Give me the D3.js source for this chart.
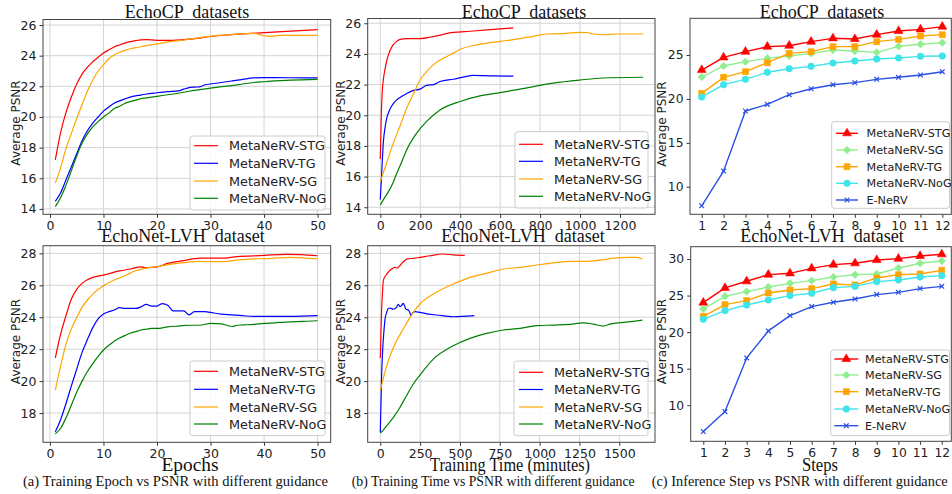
<!DOCTYPE html>
<html><head><meta charset="utf-8">
<script src="https://cdn.jsdelivr.net/npm/d3@7"></script>
<style>body{margin:0;background:#fff}svg{display:block}</style>
</head><body><svg id="c" width="952" height="494"></svg>
<script>
// ---------- DATA ----------
const seriesNames = ["MetaNeRV-STG","MetaNeRV-TG","MetaNeRV-SG","MetaNeRV-NoG"];
const stepNames = ["MetaNeRV-STG","MetaNeRV-SG","MetaNeRV-TG","MetaNeRV-NoG","E-NeRV"];

// (a) EchoCP, PSNR vs epoch
const cpEpSTGx = [1,2,3,4,5,6,7,8,9,10,11,12,13,14,15,16,17,18,20,23,25,28,30,33,36,40,45,50];
const cpEpSTGy = [17.2,19.0,20.3,21.3,22.15,22.8,23.25,23.6,23.9,24.17,24.38,24.57,24.7,24.82,24.92,24.98,25.03,25.05,25.0,25.0,25.05,25.15,25.25,25.35,25.42,25.5,25.6,25.7];
const cpEpSGx = [1,2,3,4,5,6,7,8,9,10,11,12,13,14,15,16,17,18,20,22,25,28,30,34,38,40,41,43,50];
const cpEpSGy = [15.7,16.7,17.95,18.93,19.9,20.8,21.7,22.4,23.0,23.4,23.8,24.05,24.22,24.35,24.45,24.52,24.58,24.65,24.77,24.9,25.02,25.18,25.28,25.38,25.45,25.3,25.26,25.32,25.33];
const cpEpTGx = [1,2,3,4,5,6,7,8,9,10,11,12,13,14,15,16,17,18,20,22,24,25,26,27,28,29,30,32,34,36,38,40,45,50];
const cpEpTGy = [14.5,15.05,15.9,16.75,17.6,18.45,19.1,19.6,20.0,20.38,20.65,20.9,21.05,21.18,21.3,21.38,21.43,21.5,21.58,21.65,21.7,21.82,21.92,21.95,21.97,22.1,22.15,22.25,22.35,22.45,22.55,22.57,22.56,22.55];
const cpEpNoGx = [1,2,3,4,5,6,7,8,9,10,11,12,13,14,15,16,17,18,20,22,24,26,28,30,32,34,36,38,40,42,45,50];
const cpEpNoGy = [14.15,14.75,15.55,16.5,17.45,18.3,18.9,19.35,19.7,20.0,20.25,20.55,20.7,20.88,21.0,21.1,21.2,21.25,21.35,21.45,21.55,21.68,21.78,21.88,21.98,22.05,22.15,22.25,22.3,22.35,22.4,22.45];

// (b) EchoCP, PSNR vs training time (minutes)
const cpTSTGx = [0,5,10,15,25,35,50,65,80,100,130,200,260,366,450,550,666];
const cpTSTGy = [17.15,20.0,21.6,22.3,23.1,23.7,24.25,24.6,24.8,24.95,25.0,25.0,25.12,25.4,25.48,25.58,25.7];
const cpTTGx = [0,8,15,25,32,45,57,82,110,132,166,199,232,266,299,366,420,466,560,666];
const cpTTGy = [14.5,16.5,18.2,19.3,19.8,20.3,20.6,21.0,21.25,21.42,21.62,21.7,21.95,22.0,22.2,22.35,22.5,22.6,22.57,22.55];
const cpTSGx = [0,32,66,99,132,166,199,232,266,320,366,400,466,533,600,700,766,833,900,1000,1040,1066,1120,1180,1316];
const cpTSGy = [15.67,16.9,18.2,19.3,20.45,21.4,22.3,22.85,23.3,23.75,24.05,24.3,24.55,24.7,24.82,25.0,25.15,25.3,25.32,25.4,25.38,25.3,25.25,25.3,25.3];
const cpTNoGx = [0,15,40,66,82,99,132,182,232,299,400,499,599,700,866,1000,1116,1316];
const cpTNoGy = [14.15,14.48,15.0,15.67,16.2,16.7,17.74,18.83,19.6,20.35,20.9,21.26,21.48,21.7,22.1,22.3,22.43,22.48];

// (a) EchoNet-LVH, PSNR vs epoch
const lvEpSTGx = [1,2,3,4,5,6,7,8,10,13,15,17,18,20,22,25,28,30,32,35,40,44,47,50];
const lvEpSTGy = [21.45,22.95,24.1,25.14,25.75,26.12,26.35,26.5,26.64,26.9,27.02,27.15,27.1,27.15,27.37,27.54,27.7,27.7,27.7,27.8,27.87,27.94,27.92,27.85];
const lvEpSGx = [1,2,3,4,5,6,7,8,10,12,14,16,18,20,22,25,28,30,32,35,38,40,45,50];
const lvEpSGy = [19.44,20.96,22.32,23.26,23.99,24.62,25.08,25.45,25.97,26.33,26.6,26.91,27.08,27.16,27.29,27.42,27.5,27.48,27.48,27.58,27.65,27.67,27.75,27.65];
const lvEpTGx = [1,2,3,4,5,6,7,8,9,10,11,12,13,14,15,16,17,18,19,20,21,22,23,24,25,26,27,28,29,30,32,34,36,38,40,45,50];
const lvEpTGy = [16.83,17.6,18.6,19.7,20.75,21.8,22.6,23.35,23.9,24.2,24.35,24.45,24.6,24.55,24.55,24.55,24.65,24.8,24.7,24.7,24.85,24.75,24.4,24.4,24.4,24.15,24.35,24.35,24.35,24.3,24.2,24.15,24.1,24.05,24.05,24.05,24.1];
const lvEpNoGx = [1,2,3,4,5,6,7,8,9,10,11,12,13,14,15,16,17,18,19,20,22,24,26,28,30,32,33,34,35,36,38,40,42,44,46,48,50];
const lvEpNoGy = [16.7,17.05,17.7,18.5,19.3,20.0,20.6,21.1,21.55,21.95,22.25,22.5,22.7,22.85,23.0,23.1,23.2,23.25,23.3,23.3,23.4,23.45,23.5,23.5,23.62,23.58,23.5,23.42,23.5,23.52,23.55,23.62,23.65,23.7,23.72,23.75,23.78];

// (b) EchoNet-LVH, PSNR vs training time (minutes)
const lvTSTGx = [0,4,8,14,19,30,40,55,71,92,107,120,134,150,170,207,249,312,395,458,530];
const lvTSTGy = [21.45,23.0,24.4,25.6,26.3,26.55,26.7,26.88,27.02,27.12,27.08,27.2,27.37,27.52,27.65,27.69,27.75,27.85,27.96,27.9,27.87];
const lvTTGx = [0,4,8,15,23,30,40,50,61,82,100,113,123,135,144,153,161,176,185,192,205,218,249,300,354,458,590];
const lvTTGy = [16.8,18.5,20.23,22.0,23.16,23.9,24.3,24.55,24.58,24.5,24.6,24.8,24.66,24.75,24.87,24.7,24.5,24.45,24.3,24.1,24.3,24.35,24.3,24.2,24.14,24.03,24.1];
const lvTSGx = [0,40,82,144,207,249,333,458,563,667,772,877,981,1086,1190,1295,1400,1462,1567,1609,1645];
const lvTSGy = [19.4,20.96,22.1,23.26,24.3,24.83,25.45,26.08,26.5,26.75,27.02,27.12,27.27,27.4,27.5,27.5,27.6,27.7,27.75,27.75,27.65];
const lvTNoGx = [0,20,40,82,123,165,207,249,333,458,563,667,772,877,981,1086,1190,1274,1337,1400,1441,1525,1588,1645];
const lvTNoGy = [16.75,16.95,17.2,17.73,18.35,19.1,19.82,20.38,21.38,22.22,22.68,22.99,23.2,23.3,23.47,23.51,23.55,23.65,23.57,23.45,23.57,23.68,23.74,23.82];

// (c) inference steps
const steps = [1,2,3,4,5,6,7,8,9,10,11,12];
const cpStepSTG = [23.29,24.73,25.38,25.95,26.06,26.52,26.9,26.82,27.32,27.73,27.92,28.23];
const cpStepSG  = [22.49,23.75,24.24,24.62,24.89,25.19,25.57,25.46,25.3,25.99,26.22,26.4];
const cpStepTG  = [20.63,22.46,23.1,24.13,25.19,25.38,25.95,25.95,26.52,26.78,27.16,27.32];
const cpStepNoG = [20.21,21.62,22.23,23.03,23.44,23.71,24.09,24.32,24.54,24.66,24.85,24.89];
const cpStepENeRV = [7.83,11.78,18.62,19.38,20.48,21.16,21.62,21.85,22.23,22.46,22.72,23.1];
const lvStepSTG = [24.03,26.04,26.95,27.86,28.04,28.72,29.23,29.41,29.86,30.05,30.41,30.64];
const lvStepSG  = [23.17,24.9,25.54,26.17,26.67,27.04,27.54,27.86,27.95,28.77,29.41,29.73];
const lvStepTG  = [22.16,23.76,24.31,25.35,25.76,25.95,26.58,26.45,27.4,27.86,27.95,28.45];
const lvStepNoG = [21.75,22.94,23.71,24.4,24.99,25.31,26.08,26.26,26.9,27.13,27.54,27.72];
const lvStepENeRV = [6.4,9.13,16.47,20.16,22.26,23.49,24.08,24.53,25.13,25.44,25.95,26.26];

// tick labels
const epochTicks = [0,10,20,30,40,50];
const cpTimeTicks = [0,200,400,600,800,1000,1200];
const lvTimeTicks = [0,250,500,750,1000,1250,1500];
const stepTicks = [1,2,3,4,5,6,7,8,9,10,11,12];
const cpPsnrTicks = [14,16,18,20,22,24,26];
const lvPsnrTicks = [18,20,22,24,26,28];
const cpStepPsnrTicks = [10,15,20,25];
const lvStepPsnrTicks = [10,15,20,25,30];

const titleTop = "EchoCP  datasets";
const titleBottom = "EchoNet-LVH  dataset";
const xLabels = ["Epochs","Training Time (minutes)","Steps"];
const yLabel = "Average PSNR";
const captions = ["(a) Training Epoch vs PSNR with different guidance",
                  "(b) Training Time vs PSNR with different guidance",
                  "(c) Inference Step vs PSNR with different guidance"];

// ---------- DRAW ----------
const svg = d3.select('#c');
const C = {STG:"#ff0000", TG:"#0000ff", SG:"#ffa500", NoG:"#008000",
           cSTG:"#ff0000", cSG:"#90ee90", cTG:"#ffa500", cNoG:"#3fe3ea", cE:"#2a4fe6"};
const SANS = "DejaVu Sans, sans-serif", SERIF = "Liberation Serif, Times New Roman, serif";
let clipId = 0;

function markerPath(type, s){
  if(type==="tri") return d3.symbol(d3.symbolTriangle, s)();
  if(type==="sq") return d3.symbol(d3.symbolSquare, s)();
  if(type==="dia") return d3.symbol(d3.symbolSquare, s)();
  if(type==="circ") return d3.symbol(d3.symbolCircle, s)();
  const a = Math.sqrt(s)/2; return `M${-a},${-a}L${a},${a}M${-a},${a}L${a},${-a}`;
}

function panel(p){
  const x = d3.scaleLinear().domain(p.xd).range([p.x0,p.x1]);
  const y = d3.scaleLinear().domain(p.yd).range([p.y1,p.y0]);
  const g = svg.append('g');
  if(p.grid){
    g.append('g').selectAll('line').data(p.xt).join('line')
      .attr('x1',d=>x(d)).attr('x2',d=>x(d)).attr('y1',p.y0).attr('y2',p.y1)
      .attr('stroke','#d4d4d4').attr('stroke-width',1);
    g.append('g').selectAll('line').data(p.yt).join('line')
      .attr('y1',d=>y(d)).attr('y2',d=>y(d)).attr('x1',p.x0).attr('x2',p.x1)
      .attr('stroke','#d4d4d4').attr('stroke-width',1);
  }
  const ax = g.append('g').attr('transform',`translate(0,${p.y1})`)
    .call(d3.axisBottom(x).tickValues(p.xt).tickSize(3.5).tickPadding(3).tickSizeOuter(0).tickFormat(d3.format('d')));
  const ay = g.append('g').attr('transform',`translate(${p.x0},0)`)
    .call(d3.axisLeft(y).tickValues(p.yt).tickSize(3.5).tickPadding(3).tickSizeOuter(0).tickFormat(d3.format('d')));
  [ax,ay].forEach(a=>{
    a.select('.domain').remove();
    a.selectAll('line').attr('stroke','#333');
    a.selectAll('text').attr('font-family',SANS).attr('font-size',p.tfs).attr('fill','#222');
  });
  const id = 'clip'+(clipId++);
  g.append('clipPath').attr('id',id).append('rect')
    .attr('x',p.x0).attr('y',p.y0).attr('width',p.x1-p.x0).attr('height',p.y1-p.y0);
  const plot = g.append('g').attr('clip-path',`url(#${id})`);
  p.series.forEach(s=>{
    const pts = d3.zip(s.x, s.y);
    plot.append('path').datum(pts)
      .attr('d', d3.line().x(d=>x(d[0])).y(d=>y(d[1])).curve(p.curve))
      .attr('fill','none').attr('stroke',s.color).attr('stroke-width',p.lw)
      .attr('stroke-linejoin','round');
    if(s.marker){
      plot.append('g').selectAll('path').data(pts).join('path')
        .attr('transform',d=>`translate(${x(d[0])},${y(d[1])})`+(s.marker==='dia'?' rotate(45)':''))
        .attr('d',markerPath(s.marker,s.ms))
        .attr('fill',s.marker==='x'?'none':s.color).attr('stroke',s.color).attr('stroke-width',s.marker==='x'?1.2:0.6);
    }
  });
  g.append('rect').attr('x',p.x0).attr('y',p.y0).attr('width',p.x1-p.x0).attr('height',p.y1-p.y0)
    .attr('fill','none').attr('stroke','#444').attr('stroke-width',1);
  // legend
  const L = p.leg;
  g.append('rect').attr('x',L.x0).attr('y',L.y0).attr('width',L.x1-L.x0).attr('height',L.y1-L.y0)
    .attr('rx',2.5).attr('fill','#fff').attr('fill-opacity',0.85).attr('stroke','#cccccc').attr('stroke-width',1);
  p.series.forEach((s,i)=>{
    const yy = L.ys[i];
    g.append('line').attr('x1',L.lx0).attr('x2',L.lx1).attr('y1',yy).attr('y2',yy)
      .attr('stroke',s.color).attr('stroke-width',p.lw);
    if(s.marker){
      g.append('path').attr('transform',`translate(${(L.lx0+L.lx1)/2},${yy})`+(s.marker==='dia'?' rotate(45)':''))
        .attr('d',markerPath(s.marker,s.ms))
        .attr('fill',s.marker==='x'?'none':s.color).attr('stroke',s.color).attr('stroke-width',s.marker==='x'?1.2:0.6);
    }
    g.append('text').attr('x',L.tx).attr('y',yy).attr('dy','0.36em')
      .attr('font-family',SANS).attr('font-size',L.fs).attr('fill','#222').text(s.name);
  });
  // titles / labels
  g.append('text').attr('x',p.titleX).attr('y',p.titleY).attr('text-anchor','middle')
    .attr('font-family',SERIF).attr('font-size',18).attr('fill','#111')
    .attr('xml:space','preserve').style('white-space','pre').text(p.title);
  g.append('text').attr('transform',`translate(${p.ylx},${p.yly}) rotate(-90)`).attr('text-anchor','middle')
    .attr('font-family',SANS).attr('font-size',12).attr('fill','#222').text(yLabel);
  if(p.xlabel){
    g.append('text').attr('x',p.xlX).attr('y',470.5).attr('text-anchor','middle')
      .attr('font-family',SERIF).attr('font-size',18).attr('fill','#111')
      .attr('textLength',p.xlW).attr('lengthAdjust','spacingAndGlyphs').text(p.xlabel);
  }
}

const mono = d3.curveMonotoneX, lin = d3.curveLinear;
const legAB = (x0,x1,y0,y1,ys,lx0,tx)=>({x0,x1,y0,y1,ys,lx0,lx1:lx0+24,tx,fs:12.8});

// (a) top
panel({x0:43,x1:330.7,y0:19.5,y1:214.3,xd:[-1.3,52.45],yd:[13.65,26.36],xt:epochTicks,yt:cpPsnrTicks,
  grid:true,curve:mono,lw:1.2,tfs:12.5,title:titleTop,titleX:187,titleY:18,ylx:19.5,yly:123,
  series:[{name:seriesNames[0],x:cpEpSTGx,y:cpEpSTGy,color:C.STG},{name:seriesNames[1],x:cpEpTGx,y:cpEpTGy,color:C.TG},
          {name:seriesNames[2],x:cpEpSGx,y:cpEpSGy,color:C.SG},{name:seriesNames[3],x:cpEpNoGx,y:cpEpNoGy,color:C.NoG}],
  leg:legAB(190,325,136,210,[145.7,163.3,181,198.3],194,229)});
// (b) top
panel({x0:367.7,x1:655,y0:18.5,y1:214.3,xd:[-63.1,1375.2],yd:[13.54,26.31],xt:cpTimeTicks,yt:cpPsnrTicks,
  grid:true,curve:mono,lw:1.2,tfs:12.5,title:titleTop,titleX:524,titleY:18,ylx:344.5,yly:123,
  series:[{name:seriesNames[0],x:cpTSTGx,y:cpTSTGy,color:C.STG},{name:seriesNames[1],x:cpTTGx,y:cpTTGy,color:C.TG},
          {name:seriesNames[2],x:cpTSGx,y:cpTSGy,color:C.SG},{name:seriesNames[3],x:cpTNoGx,y:cpTNoGy,color:C.NoG}],
  leg:legAB(515,648,131.7,208,[144.3,161.3,179,196.3],519,554)});
// (c) top
panel({x0:690,x1:951.3,y0:18.3,y1:214.3,xd:[0.465,12.41],yd:[6.86,29.18],xt:stepTicks,yt:cpStepPsnrTicks,
  grid:false,curve:lin,lw:1.4,tfs:12.3,title:titleTop,titleX:822,titleY:18,ylx:666,yly:124,
  series:[{name:stepNames[0],x:steps,y:cpStepSTG,color:C.cSTG,marker:'tri',ms:34},
          {name:stepNames[1],x:steps,y:cpStepSG,color:C.cSG,marker:'dia',ms:28},
          {name:stepNames[2],x:steps,y:cpStepTG,color:C.cTG,marker:'sq',ms:36},
          {name:stepNames[3],x:steps,y:cpStepNoG,color:C.cNoG,marker:'circ',ms:34},
          {name:stepNames[4],x:steps,y:cpStepENeRV,color:C.cE,marker:'x',ms:22}],
  leg:{x0:831.7,x1:949.5,y0:121.7,y1:208.3,ys:[133.3,150,166.7,183.3,200],lx0:836,lx1:858,tx:866.5,fs:11.2}});
// (a) bottom
panel({x0:43,x1:330.7,y0:245.7,y1:442.3,xd:[-1.3,52.45],yd:[16.17,28.48],xt:epochTicks,yt:lvPsnrTicks,
  grid:true,curve:mono,lw:1.2,tfs:12.5,title:titleBottom,titleX:183,titleY:241.5,ylx:19.5,yly:341.5,xlabel:xLabels[0],xlX:190,xlW:57,
  series:[{name:seriesNames[0],x:lvEpSTGx,y:lvEpSTGy,color:C.STG},{name:seriesNames[1],x:lvEpTGx,y:lvEpTGy,color:C.TG},
          {name:seriesNames[2],x:lvEpSGx,y:lvEpSGy,color:C.SG},{name:seriesNames[3],x:lvEpNoGx,y:lvEpNoGy,color:C.NoG}],
  leg:legAB(190,325,361,435.7,[371.3,389.3,407,424],194,229)});
// (b) bottom
panel({x0:367.7,x1:655,y0:245.7,y1:442.3,xd:[-79.1,1724.1],yd:[16.17,28.48],xt:lvTimeTicks,yt:lvPsnrTicks,
  grid:true,curve:mono,lw:1.2,tfs:12.5,title:titleBottom,titleX:523,titleY:241.5,ylx:344.5,yly:341.5,xlabel:xLabels[1],xlX:510,xlW:160,
  series:[{name:seriesNames[0],x:lvTSTGx,y:lvTSTGy,color:C.STG},{name:seriesNames[1],x:lvTTGx,y:lvTTGy,color:C.TG},
          {name:seriesNames[2],x:lvTSGx,y:lvTSGy,color:C.SG},{name:seriesNames[3],x:lvTNoGx,y:lvTNoGy,color:C.NoG}],
  leg:legAB(514,648,361,435.7,[372.3,389.5,407,424],519,554)});
// (c) bottom
panel({x0:690.7,x1:951.3,y0:246.7,y1:441.3,xd:[0.419,12.44],yd:[5.07,31.68],xt:stepTicks,yt:lvStepPsnrTicks,
  grid:false,curve:lin,lw:1.4,tfs:12.3,title:titleBottom,titleX:822,titleY:241.5,ylx:666,yly:341.5,xlabel:xLabels[2],xlX:820,xlW:36,
  series:[{name:stepNames[0],x:steps,y:lvStepSTG,color:C.cSTG,marker:'tri',ms:34},
          {name:stepNames[1],x:steps,y:lvStepSG,color:C.cSG,marker:'dia',ms:28},
          {name:stepNames[2],x:steps,y:lvStepTG,color:C.cTG,marker:'sq',ms:36},
          {name:stepNames[3],x:steps,y:lvStepNoG,color:C.cNoG,marker:'circ',ms:34},
          {name:stepNames[4],x:steps,y:lvStepENeRV,color:C.cE,marker:'x',ms:22}],
  leg:{x0:830.7,x1:949.5,y0:350,y1:435.7,ys:[359,375,391.7,409,425.7],lx0:834.3,lx1:858.3,tx:865,fs:11.2}});

// captions
[[23,305,captions[0]],[351.7,283,captions[1]],[651.7,296,captions[2]]].forEach(([cx,w,t])=>{
  svg.append('text').attr('x',cx).attr('y',485.5).attr('font-family',SERIF).attr('font-size',14.3)
    .attr('textLength',w).attr('lengthAdjust','spacingAndGlyphs').attr('fill','#111').text(t);
});
</script></body></html>
